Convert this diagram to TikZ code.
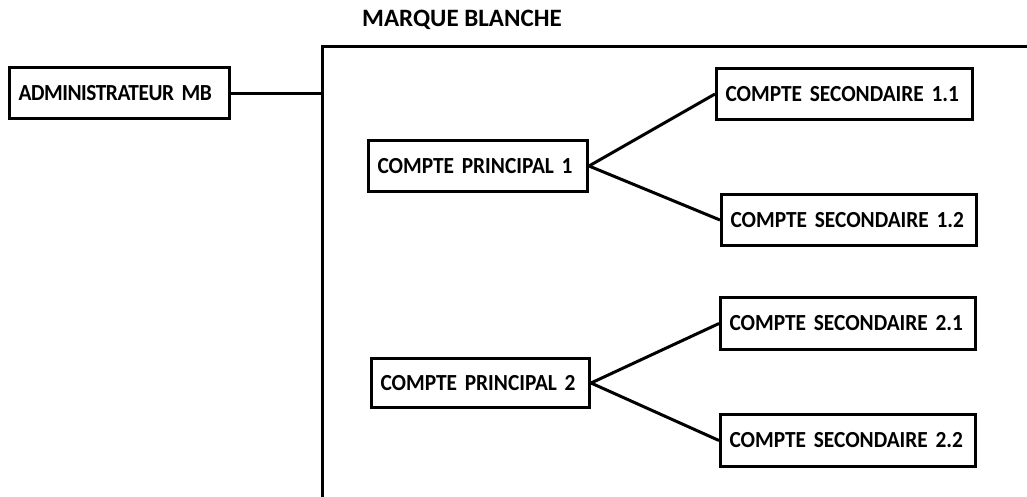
\documentclass[tikz,border=0pt]{standalone}
\usepackage{fontspec}
\setmainfont{Carlito}
\newfontfamily\boxfont[FakeStretch=0.93]{Carlito}
\newfontfamily\adminfont[FakeStretch=0.93,LetterSpace=-2]{Carlito}
\begin{document}
\begin{tikzpicture}[x=1pt,y=-1pt,
  box/.style={draw=black, line width=3pt, inner xsep=9pt, inner ysep=0pt,
    align=left, font=\boxfont\bfseries\fontsize{23}{26}\selectfont, minimum height=51pt},
  link/.style={draw=black, line width=3pt}]
\useasboundingbox (0,0) rectangle (1027,496);
\node[box, text width=202pt, font=\adminfont\bfseries\fontsize{23}{26}\selectfont] (admin) at (119.5,93) {\mbox{ADMINISTRATEUR MB}};
\node[box, text width=201pt] (cp1) at (478,166) {\mbox{COMPTE PRINCIPAL 1}};
\node[box, text width=238pt] (cs11) at (844.5,94) {\mbox{COMPTE SECONDAIRE 1.1}};
\node[box, text width=237pt] (cs12) at (849,220) {\mbox{COMPTE SECONDAIRE 1.2}};
\node[box, text width=200pt, minimum height=49pt] (cp2) at (480.5,383) {\mbox{COMPTE PRINCIPAL 2}};
\node[box, text width=237pt, minimum height=52pt] (cs21) at (848,323.5) {\mbox{COMPTE SECONDAIRE 2.1}};
\node[box, text width=237pt, minimum height=52pt] (cs22) at (848,440.5) {\mbox{COMPTE SECONDAIRE 2.2}};
\node[font=\bfseries\fontsize{25}{28}\selectfont] (title) at (462,20) {MARQUE BLANCHE};
\coordinate (bl) at (322,498);
\coordinate (tl) at (322,46);
\coordinate (tr) at (1029,46);
\draw[link, line join=miter] (bl) -- (tl) -- (tr);
\draw[link] (admin.east) -- (admin.east -| tl);
\draw[link] (cp1.east) -- (cs11.west);
\draw[link] (cp1.east) -- (cs12.west);
\draw[link] (cp2.east) -- (cs21.west);
\draw[link] (cp2.east) -- (cs22.west);
\end{tikzpicture}
\end{document}
